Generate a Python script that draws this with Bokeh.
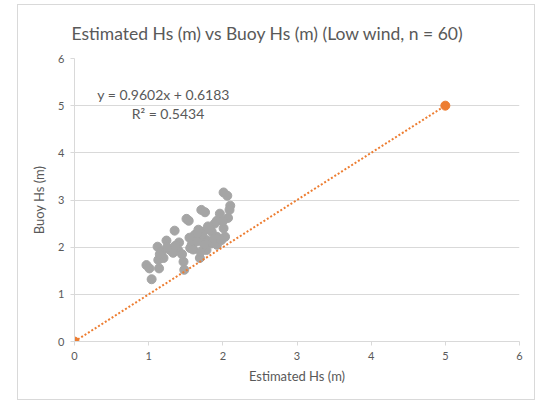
from bokeh.plotting import figure
from bokeh.models import Range1d, Title, Label, ColumnDataSource, SingleIntervalTicker
from bokeh.embed import file_html
from bokeh.resources import INLINE

# Data (Estimated Hs vs Buoy Hs, low wind)
est_hs = [2.01, 2.06, 2.10, 2.09, 1.71, 1.76, 1.96, 2.07, 1.51, 1.54,
          1.92, 1.89, 1.80, 2.01, 1.67, 1.74, 1.85, 1.35, 1.62, 1.92,
          2.03, 1.78, 1.70, 1.60, 1.65, 1.85, 1.92, 1.24, 1.41, 1.12,
          1.56, 1.29, 1.18, 1.40, 1.78, 1.20, 1.13, 1.69, 1.47, 0.97,
          1.01, 1.14, 1.48, 1.04, 1.72, 1.58, 1.33, 1.25, 1.88, 1.66,
          1.60, 1.98, 1.75, 1.36, 1.55, 1.82, 2.00, 1.45, 1.70, 1.15]
buoy_hs = [3.16, 3.09, 2.88, 2.79, 2.79, 2.74, 2.71, 2.62, 2.60, 2.56,
           2.56, 2.50, 2.44, 2.40, 2.37, 2.33, 2.33, 2.35, 2.26, 2.22,
           2.22, 2.15, 2.20, 2.12, 2.12, 2.08, 2.05, 2.14, 2.10, 2.01,
           1.98, 1.94, 1.91, 1.93, 1.94, 1.77, 1.73, 1.77, 1.69, 1.62,
           1.55, 1.55, 1.52, 1.32, 2.28, 2.05, 1.88, 2.00, 2.18, 2.30,
           1.95, 2.15, 2.05, 2.03, 2.20, 2.40, 2.55, 1.85, 1.90, 1.85]
ref_x = [0, 5]
ref_y = [0, 5]
title_text = "Estimated Hs (m) vs Buoy Hs (m) (Low wind, n = 60)"
eq_text = "y = 0.9602x + 0.6183"
r2_text = "R\u00b2 = 0.5434"
x_label = "Estimated Hs (m)"
y_label = "Buoy Hs (m)"

FONT = "Lato"
TXT = "#595959"
LINE = "#d9d9d9"
ORANGE = "#ED7D31"

p = figure(width=518, height=396, output_backend="svg", toolbar_location=None,
           x_range=Range1d(0, 6), y_range=Range1d(0, 6),
           min_border_left=56, min_border_right=17, min_border_top=53,
           min_border_bottom=60, margin=(4, 8, 0, 17))
p.styles = {"border": "1px solid #d9d9d9", "box-sizing": "border-box"}
p.outline_line_color = None
p.background_fill_color = "white"
p.border_fill_color = "white"

p.add_layout(Title(text=title_text, align="left", offset=-3, standoff=30,
                   text_font=FONT, text_font_size="17.5px", text_font_style="normal",
                   text_color=TXT), "above")

p.xgrid.grid_line_color = None
p.ygrid.grid_line_color = LINE
p.ygrid.grid_line_width = 1

for ax in (p.xaxis[0], p.yaxis[0]):
    ax.ticker = SingleIntervalTicker(interval=1, num_minor_ticks=0)
    ax.axis_line_color = LINE
    ax.major_tick_line_color = LINE
    ax.minor_tick_line_color = None
    ax.major_tick_in = 0
    ax.major_tick_out = 4
    ax.major_label_text_font = FONT
    ax.major_label_text_font_size = "11px"
    ax.major_label_text_color = TXT
    ax.axis_label_text_font = FONT
    ax.axis_label_text_font_size = "13px"
    ax.axis_label_text_font_style = "normal"
    ax.axis_label_text_color = TXT
p.xaxis.axis_label = x_label
p.yaxis.axis_label = y_label
p.xaxis.major_label_standoff = 6
p.yaxis.major_label_standoff = 6
p.xaxis.axis_label_standoff = 5
p.yaxis.axis_label_standoff = 8

src = ColumnDataSource(dict(x=est_hs, y=buoy_hs))
p.scatter("x", "y", source=src, size=9, fill_color="#A5A5A5", line_color="#A5A5A5")

p.line(ref_x, ref_y, line_color=ORANGE, line_width=2, line_dash="2 2")
p.scatter(ref_x, ref_y, size=9, fill_color=ORANGE, line_color=ORANGE)

p.add_layout(Label(x=1.20, y=5.24, text=eq_text, text_align="center",
                   text_baseline="middle", text_font=FONT, text_font_size="14px",
                   text_color=TXT))
p.add_layout(Label(x=1.26, y=4.84, text=r2_text, text_align="center",
                   text_baseline="middle", text_font=FONT, text_font_size="14px",
                   text_color=TXT))

open("out.html", "w").write(file_html(p, INLINE))
